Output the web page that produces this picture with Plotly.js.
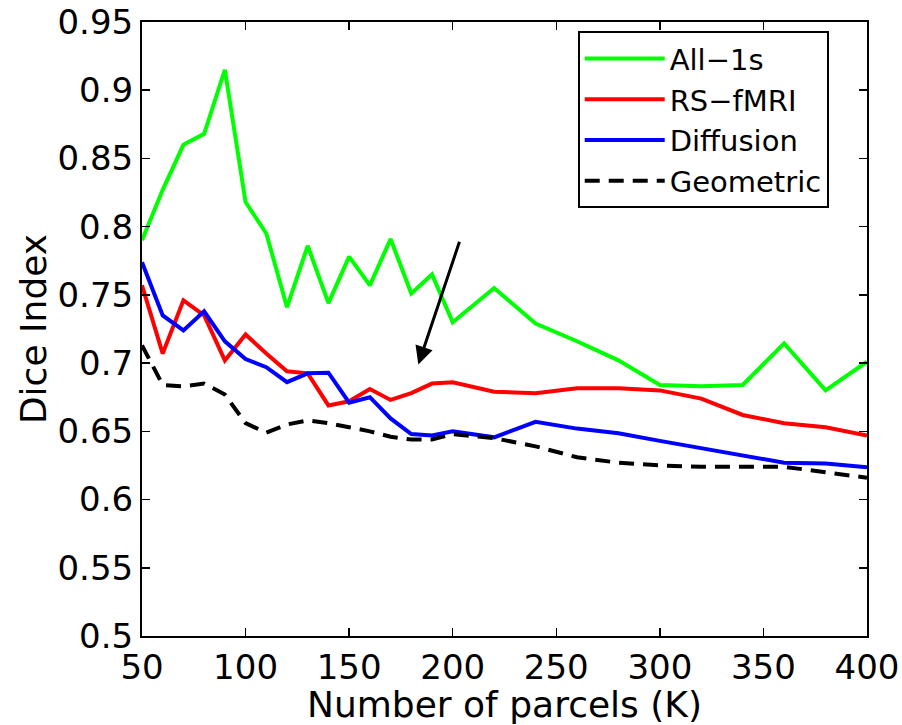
<!DOCTYPE html>
<html>
<head>
<meta charset="utf-8">
<script src="https://cdn.plot.ly/plotly-3.0.1.min.js"></script>
<style>html,body{margin:0;padding:0;background:#fff;}#chart{width:902px;height:725px;}</style>
</head>
<body>
<div id="chart"></div>
<script>
var parcels = [50,60,70,80,90,100,110,120,130,140,150,160,170,180,190,200,220,240,260,280,300,320,340,360,380,400];
var all1s = [0.790,0.827,0.860,0.868,0.915,0.818,0.795,0.741,0.786,0.744,0.778,0.757,0.791,0.751,0.765,0.730,0.755,0.729,0.716,0.702,0.684,0.683,0.684,0.7145,0.680,0.701];
var rsfmri = [0.757,0.707,0.746,0.735,0.702,0.721,0.707,0.694,0.6925,0.669,0.672,0.681,0.673,0.678,0.685,0.686,0.679,0.678,0.6815,0.6815,0.680,0.674,0.662,0.656,0.653,0.647];
var diffusion = [0.774,0.735,0.724,0.738,0.716,0.703,0.697,0.686,0.6925,0.693,0.671,0.675,0.6595,0.648,0.647,0.650,0.6456,0.657,0.652,0.6486,0.643,0.6375,0.632,0.627,0.6265,0.6236];
var geometric = [0.713,0.684,0.683,0.685,0.677,0.656,0.649,0.655,0.658,0.656,0.653,0.650,0.646,0.644,0.644,0.648,0.645,0.639,0.631,0.627,0.625,0.624,0.624,0.624,0.620,0.616];
var seriesNames = ['All\u22121s','RS\u2212fMRI','Diffusion','Geometric'];
var xTicks = [50,100,150,200,250,300,350,400];
var yTicks = [0.5,0.55,0.6,0.65,0.7,0.75,0.8,0.85,0.9,0.95];
var yTickText = ['0.5','0.55','0.6','0.65','0.7','0.75','0.8','0.85','0.9','0.95'];
var arrowTail = [203.5, 0.790];
var arrowHead = [183.4, 0.699];

var FONT = 'DejaVu Sans';
function tr(y, name, color, dash){
  return {x: parcels, y: y, name: name, type:'scatter', mode:'lines',
    line:{color:color, width:4, dash:dash||'solid'}};
}
var data = [
  tr(all1s, seriesNames[0], '#00ff00'),
  tr(rsfmri, seriesNames[1], '#ff0000'),
  tr(diffusion, seriesNames[2], '#0000ff'),
  tr(geometric, seriesNames[3], '#000000', '15px,9px')
];
var axisCommon = {showline:true, linecolor:'#000', linewidth:2, mirror:'ticks', ticks:'inside',
  ticklen:8, tickwidth:1.5, tickcolor:'#000', showgrid:false, zeroline:false,
  tickfont:{family:FONT, size:34, color:'#000'}};
var layout = {
  width:902, height:725,
  margin:{l:142, r:35, t:22, b:89},
  paper_bgcolor:'#fff', plot_bgcolor:'#fff',
  font:{family:FONT, color:'#000'},
  xaxis: Object.assign({}, axisCommon, {range:[50,400], tickvals:xTicks, ticktext:xTicks.map(String),
    title:{text:'Number of parcels (K)', font:{family:FONT, size:36, color:'#000'}, standoff:0}}),
  yaxis: Object.assign({}, axisCommon, {range:[0.5,0.95], tickvals:yTicks, ticktext:yTickText,
    title:{text:'Dice Index', font:{family:FONT, size:36, color:'#000'}, standoff:0}}),
  showlegend:true,
  legend:{x:0.601, y:0.985, xanchor:'left', yanchor:'top', bgcolor:'#fff', bordercolor:'#000', borderwidth:2,
    font:{family:FONT, size:29, color:'#000'}, itemwidth:80, tracegroupgap:0},
  annotations:[{x:arrowHead[0], y:arrowHead[1], ax:arrowTail[0], ay:arrowTail[1], xref:'x', yref:'y', axref:'x', ayref:'y',
    text:'', showarrow:true, arrowhead:2, arrowsize:1.2, arrowwidth:3, arrowcolor:'#000'}]
};
Plotly.newPlot('chart', data, layout, {displayModeBar:false, staticPlot:true});
</script>
</body>
</html>
